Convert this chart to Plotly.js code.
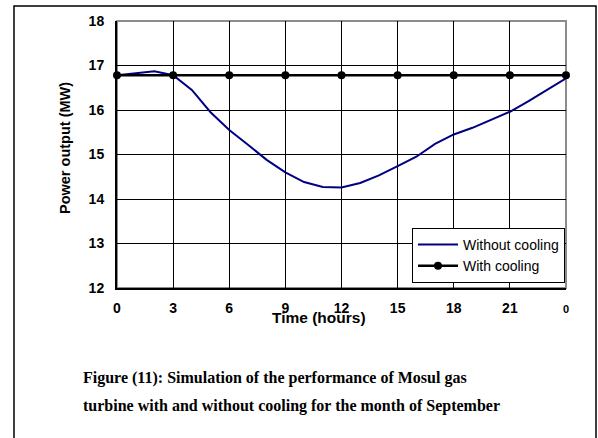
<!DOCTYPE html>
<html>
<head>
<meta charset="utf-8">
<script src="https://cdn.plot.ly/plotly-3.0.1.min.js"></script>
<style>
  html, body { margin: 0; padding: 0; background: #fff; }
  #chart { width: 598px; height: 438px; }
</style>
</head>
<body>
<div id="chart"></div>
<script>
// ---- data ----
const hours = [0, 1, 2, 3, 4, 5, 6, 7, 8, 9, 10, 11, 12, 13, 14, 15, 16, 17, 18, 19, 20, 21, 22, 23, 24];
const withoutCooling = [16.78, 16.82, 16.87, 16.78, 16.45, 15.95, 15.55, 15.22, 14.88, 14.60, 14.38, 14.27, 14.26, 14.36, 14.53, 14.74, 14.95, 15.24, 15.45, 15.60, 15.78, 15.96, 16.20, 16.45, 16.71];
const coolingHours = [0, 3, 6, 9, 12, 15, 18, 21, 24];
const withCooling = [16.78, 16.78, 16.78, 16.78, 16.78, 16.78, 16.78, 16.78, 16.78];
const xTickVals = [0, 3, 6, 9, 12, 15, 18, 21, 24];
const xTickText = ['0', '3', '6', '9', '12', '15', '18', '21', '<span style="font-size:11px">0</span>'];
const yTickVals = [12, 13, 14, 15, 16, 17, 18];
const seriesNames = ['Without cooling', 'With cooling'];
const xTitle = 'Time (hours)';
const yTitle = 'Power output (MW)';
const captionLines = [
  'Figure (11): Simulation of the performance of Mosul gas',
  'turbine with and without cooling for the month of September'
];

// ---- geometry helpers (pixel -> paper) ----
const W = 598, H = 438;
const PL = 117, PR = 566, PT = 21, PB = 288;
const px = v => (v - PL) / (PR - PL);
const py = v => (PB - v) / (PB - PT);

const sans = 'Liberation Sans, Arial, sans-serif';
const serif = 'Liberation Serif, Times New Roman, serif';

const traces = [
  {
    x: hours, y: withoutCooling, name: seriesNames[0],
    type: 'scatter', mode: 'lines',
    line: { color: '#000080', width: 2 }
  },
  {
    x: coolingHours, y: withCooling, name: seriesNames[1],
    type: 'scatter', mode: 'lines+markers',
    line: { color: '#000000', width: 2.5 },
    marker: { color: '#000000', size: 8 },
    cliponaxis: false
  }
];

const layout = {
  width: W, height: H,
  margin: { l: PL, r: W - PR, t: PT, b: H - PB, pad: 0 },
  paper_bgcolor: '#ffffff', plot_bgcolor: '#ffffff',
  showlegend: true,
  legend: {
    x: px(412), y: py(228), xanchor: 'left', yanchor: 'top',
    bgcolor: '#ffffff', bordercolor: '#000000', borderwidth: 1,
    font: { family: sans, size: 14, color: '#000' },
    tracegroupgap: 0, itemwidth: 40
  },
  xaxis: {
    range: [0, 24], tickvals: xTickVals, ticktext: xTickText,
    showgrid: true, gridcolor: '#000', gridwidth: 1,
    zeroline: false, showline: true, linecolor: '#000', linewidth: 2,
    ticks: '', ticklabelstandoff: 6,
    tickfont: { family: sans, size: 14, color: '#000', weight: 'bold' },
    fixedrange: true
  },
  yaxis: {
    range: [12, 18], tickvals: yTickVals,
    showgrid: true, gridcolor: '#000', gridwidth: 1,
    zeroline: false, showline: true, linecolor: '#000', linewidth: 2,
    ticks: '', ticklabelstandoff: 8,
    tickfont: { family: sans, size: 14, color: '#000', weight: 'bold' },
    fixedrange: true
  },
  shapes: [
    { type: 'rect', xref: 'paper', yref: 'paper', x0: 0, x1: 1, y0: 0, y1: 1,
      line: { color: '#8c8c8c', width: 2 }, layer: 'below' },
    { type: 'rect', xref: 'paper', yref: 'paper', x0: px(14), x1: px(596), y0: py(448), y1: py(6),
      line: { color: '#000', width: 1.5 } }
  ],
  annotations: [
    { text: yTitle, xref: 'paper', yref: 'paper', x: px(65), y: py(148),
      xanchor: 'center', yanchor: 'middle', textangle: -90, showarrow: false,
      font: { family: sans, size: 14.5, color: '#000', weight: 'bold' } },
    { text: xTitle, xref: 'paper', yref: 'paper', x: px(319), y: py(317),
      xanchor: 'center', yanchor: 'middle', showarrow: false,
      font: { family: sans, size: 15.5, color: '#000', weight: 'bold' } },
    { text: captionLines[0], xref: 'paper', yref: 'paper', x: px(81), y: py(378),
      xanchor: 'left', yanchor: 'middle', showarrow: false,
      font: { family: serif, size: 16, color: '#000', weight: 'bold' } },
    { text: captionLines[1], xref: 'paper', yref: 'paper', x: px(81), y: py(406),
      xanchor: 'left', yanchor: 'middle', showarrow: false,
      font: { family: serif, size: 16, color: '#000', weight: 'bold' } }
  ]
};

Plotly.newPlot('chart', traces, layout, { displayModeBar: false, staticPlot: true });
</script>
</body>
</html>
